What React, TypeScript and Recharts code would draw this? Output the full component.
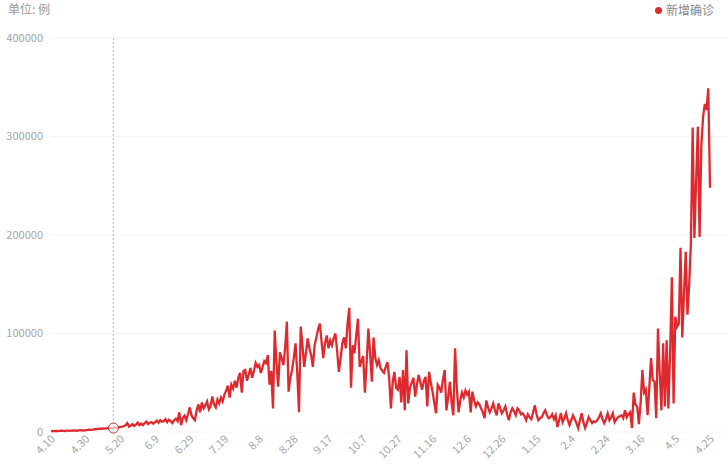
import React from 'react';
import { LineChart, Line, XAxis, YAxis, CartesianGrid, Legend, ReferenceLine, ReferenceDot } from 'recharts';

// daily new confirmed cases, one value per day from 2020-04-10 to 2021-04-25
const CASES: number[] = [
  // 4.10 - 4.29
  800, 900, 1000, 1100, 900, 1200, 1300, 1100, 1000, 1300, 1400, 1200, 1500, 1600, 1400, 1300, 1700, 1800, 1600, 1500,
  // 4.30 - 5.19
  1800, 2000, 2300, 2100, 2500, 3000, 2800, 3200, 3500, 3300, 3600, 3400, 3800, 4200, 3900, 3700, 4000, 4600, 4300, 4800,
  // 5.20 - 6.8
  5200, 5500, 6000, 6800, 9000, 5500, 6500, 8000, 6200, 7500, 9500, 6800, 8500, 7000, 9000, 10500, 8000, 9500, 10000, 8500,
  // 6.9 - 6.28
  10000, 11500, 9500, 12000, 10500, 11000, 13000, 10000, 12500, 11000, 9000, 12000, 13500, 11000, 20000, 7000, 14000, 16500, 12000, 18000,
  // 6.29 - 7.18
  25000, 17000, 14000, 12000, 22000, 28000, 20000, 30000, 24000, 27000, 31000, 23000, 26000, 36000, 28000, 25000, 33000, 29000, 35000, 31000,
  // 7.19 - 8.7
  38000, 42000, 47000, 35000, 48000, 44000, 52000, 45000, 55000, 60000, 40000, 62000, 63000, 52000, 58000, 65000, 55000, 62000, 70000, 66000,
  // 8.8 - 8.27
  68000, 60000, 66000, 72000, 70000, 78000, 48000, 62000, 24000, 103000, 70000, 46000, 81000, 75000, 68000, 85000, 112000, 41000, 55000, 63000,
  // 8.28 - 9.16
  75000, 90000, 60000, 20000, 107000, 88000, 66000, 80000, 95000, 85000, 78000, 66000, 88000, 96000, 104000, 110000, 92000, 75000, 90000, 98000,
  // 9.17 - 10.6
  85000, 93000, 88000, 95000, 100000, 82000, 61000, 75000, 90000, 96000, 85000, 110000, 126000, 45000, 88000, 80000, 98000, 115000, 66000, 72000,
  // 10.7 - 10.26
  77000, 40000, 70000, 105000, 80000, 51000, 96000, 75000, 68000, 73000, 65000, 62000, 60000, 66000, 71000, 55000, 24000, 50000, 61000, 45000,
  // 10.27 - 11.15
  43000, 56000, 30000, 63000, 22000, 83000, 29000, 45000, 50000, 55000, 36000, 48000, 58000, 50000, 43000, 52000, 56000, 26000, 61000, 50000,
  // 11.16 - 12.5
  41000, 30000, 19000, 48000, 45000, 40000, 53000, 63000, 22000, 35000, 51000, 30000, 17000, 85000, 45000, 20000, 32000, 40000, 35000, 42000,
  // 12.6 - 12.25
  38000, 41000, 20000, 41000, 32000, 26000, 30000, 28000, 24000, 20000, 14000, 32000, 25000, 20000, 24000, 29000, 22000, 17000, 29000, 24000,
  // 12.26 - 1.14
  19000, 22000, 26000, 18000, 12000, 20000, 24000, 21000, 17000, 24000, 22000, 18000, 19000, 16000, 12000, 18000, 15000, 13000, 20000, 27000,
  // 1.15 - 2.3
  18000, 12000, 14000, 15000, 19000, 22000, 17000, 14000, 15000, 18000, 13000, 17000, 5000, 12000, 19000, 10000, 14000, 19000, 12000, 7000,
  // 2.4 - 2.23
  12000, 17000, 13000, 9000, 4000, 12000, 19000, 10000, 4000, 9000, 15000, 12000, 9000, 11000, 10000, 12000, 15000, 19000, 13000, 9000,
  // 2.24 - 3.15
  13000, 19000, 12000, 15000, 19000, 10000, 13000, 15000, 16000, 17000, 14000, 22000, 15000, 18000, 20000, 4000, 40000, 28000, 26000, 8000,
  // 3.16 - 4.4
  30000, 63000, 40000, 43000, 17000, 45000, 75000, 53000, 51000, 14000, 105000, 60000, 22000, 90000, 26000, 93000, 24000, 80000, 157000, 29000,
  // 4.5 - 4.24
  117000, 107000, 110000, 187000, 96000, 140000, 183000, 119000, 150000, 192000, 309000, 197000, 255000, 310000, 198000, 290000, 320000, 333000, 327000, 349000,
  // 4.25
  248000,
];

const START = Date.UTC(2020, 3, 10);
const DATES = CASES.map((_, i) => new Date(START + i * 86400000).toISOString().slice(0, 10));

const X_TICKS = [
  '2020-04-10', '2020-04-30', '2020-05-20', '2020-06-09', '2020-06-29', '2020-07-19', '2020-08-08',
  '2020-08-28', '2020-09-17', '2020-10-07', '2020-10-27', '2020-11-16', '2020-12-06', '2020-12-26',
  '2021-01-15', '2021-02-04', '2021-02-24', '2021-03-16', '2021-04-05', '2021-04-25',
];
const Y_TICKS = [0, 100000, 200000, 300000, 400000];

const HOVER_DATE = '2020-05-16';

const data = DATES.map((date, i) => ({ date, cases: CASES[i] }));

const fmtDate = (d: string) => `${Number(d.slice(5, 7))}.${Number(d.slice(8, 10))}`;

const RED = '#de2a2e';
const TEXT = '#a5a5a5';

// rotated date labels under the axis
const DateTick = ({ x, y, payload }: any) => (
  <g transform={`translate(${x + 2},${y - 3})`}>
    <text x={0} y={0} dy="0.35em" textAnchor="end" transform="rotate(-45)" fontSize={11} fill={TEXT}>
      {fmtDate(payload.value)}
    </text>
  </g>
);

export default function App() {
  const hoverValue = CASES[DATES.indexOf(HOVER_DATE)];
  return (
    <div style={{ position: 'relative', width: 728, height: 464, background: '#fff', fontFamily: "'Noto Sans CJK SC', 'Noto Sans', sans-serif" }}>
      <style>{'body{margin:0}'}</style>
      <LineChart width={728} height={464} data={data} margin={{ top: 18, right: 0, bottom: 0, left: 0 }}>
        <CartesianGrid vertical={false} stroke="#f3f3f3" />
        <XAxis
          dataKey="date"
          ticks={X_TICKS}
          interval={0}
          axisLine={false}
          tickLine={false}
          height={32}
          padding={{ left: 0, right: 18 }}
          tick={<DateTick />}
        />
        <YAxis
          domain={[0, 400000]}
          ticks={Y_TICKS}
          axisLine={false}
          tickLine={false}
          width={51}
          tick={{ fontSize: 11, fill: TEXT }}
        />
        <Legend
          verticalAlign="top"
          align="right"
          height={20}
          iconType="circle"
          iconSize={7}
          wrapperStyle={{ top: -4, right: 4 }}
          formatter={(v) => <span style={{ color: '#888', fontSize: 12 }}>{v}</span>}
        />
        <ReferenceLine x={HOVER_DATE} stroke="#bbb" strokeDasharray="2 2" />
        <Line
          type="linear"
          dataKey="cases"
          name="新增确诊"
          stroke={RED}
          strokeWidth={2.3}
          dot={false}
          isAnimationActive={false}
        />
        <ReferenceDot x={HOVER_DATE} y={hoverValue} r={5} fill="#fff" fillOpacity={0.6} stroke="#b03a3a" strokeWidth={1} />
      </LineChart>
      <div style={{ position: 'absolute', left: 8, top: 1, zIndex: 2, fontSize: 12, lineHeight: '16px', color: '#999' }}>单位: 例</div>
    </div>
  );
}
